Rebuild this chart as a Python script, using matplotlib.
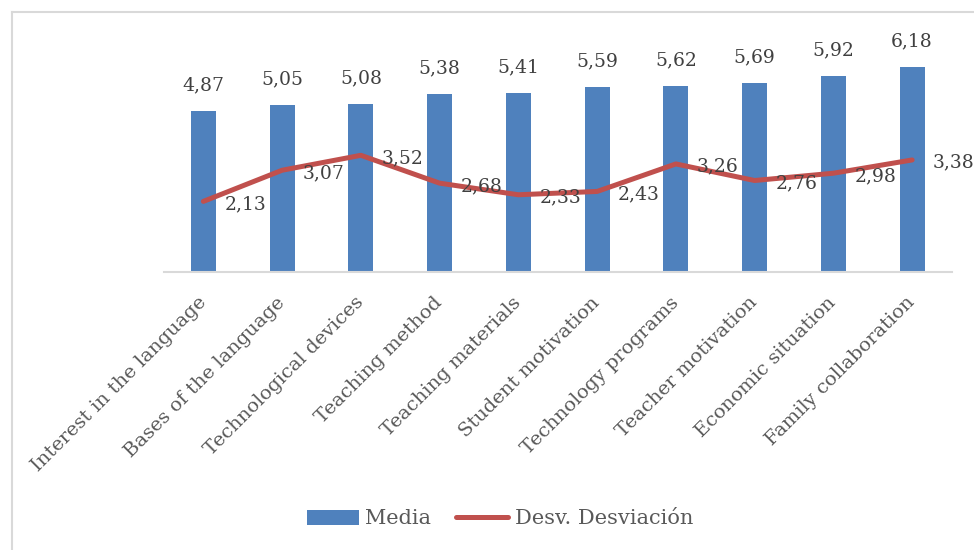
"""Media vs. Desv. Desviación per factor, bar + line combo chart."""

import matplotlib
matplotlib.use("Agg")
import matplotlib.pyplot as plt
from matplotlib.lines import Line2D

categories = [
    "Interest in the language",
    "Bases of the language",
    "Technological devices",
    "Teaching method",
    "Teaching materials",
    "Student motivation",
    "Technology programs",
    "Teacher motivation",
    "Economic situation",
    "Family collaboration",
]
media = [4.87, 5.05, 5.08, 5.38, 5.41, 5.59, 5.62, 5.69, 5.92, 6.18]
desviacion = [2.13, 3.07, 3.52, 2.68, 2.33, 2.43, 3.26, 2.76, 2.98, 3.38]

BAR_COLOR = "#4F81BD"
LINE_COLOR = "#C0504D"
LABEL_COLOR = "#404040"
TEXT_COLOR = "#595959"
FONT = "DejaVu Serif"


def fmt(v):
    return f"{v:.2f}".replace(".", ",")


def main():
    plt.rcParams["font.family"] = [FONT, "Liberation Serif"]
    W, H = 974, 550
    fig = plt.figure(figsize=(W / 100, H / 100), dpi=100)

    # plot area in pixels: x 164..951.5, baseline y=272, top y=6.8 (ylim 0..8)
    left, right = 164 / W, 951.5 / W
    bottom, top = (H - 272) / H, (H - 6.8) / H
    ax = fig.add_axes([left, bottom, right - left, top - bottom])

    x = list(range(len(categories)))
    bars = ax.bar(x, media, width=0.32, color=BAR_COLOR, label="Media", zorder=2)
    line, = ax.plot(x, desviacion, color=LINE_COLOR, linewidth=3.6,
                    solid_joinstyle="round", solid_capstyle="round",
                    label="Desv. Desviación", zorder=3)

    for xi, v in zip(x, media):
        ax.annotate(fmt(v), (xi, v), xytext=(0, 12), textcoords="offset points",
                    ha="center", va="bottom", fontsize=13.5, color=LABEL_COLOR)
    for xi, v in zip(x, desviacion):
        ax.annotate(fmt(v), (xi, v), xytext=(15, -2), textcoords="offset points",
                    ha="left", va="center", fontsize=13.5, color=LABEL_COLOR, zorder=4)

    ax.set_xlim(-0.5, len(categories) - 0.5)
    ax.set_ylim(0, 8)
    ax.set_yticks([])
    ax.set_xticks(x)
    ax.set_xticklabels(categories, rotation=45, ha="right", va="center",
                       rotation_mode="anchor", fontsize=14, color=TEXT_COLOR)
    ax.tick_params(axis="x", length=0, pad=20)
    for side in ("top", "right", "left"):
        ax.spines[side].set_visible(False)
    ax.spines["bottom"].set_color("#D9D9D9")
    ax.spines["bottom"].set_linewidth(1.5)
    ax.patch.set_alpha(0)

    fig.legend([bars, line], ["Media", "Desv. Desviación"],
               loc="center", bbox_to_anchor=(500 / W, (H - 519) / H),
               ncol=2, frameon=False, fontsize=15, handlelength=2.5,
               handletextpad=0.3, columnspacing=1.2,
               labelcolor=TEXT_COLOR)

    # outer chart frame (only top and left edges are visible in the crop)
    fx, fy = 11.5 / W, (H - 11.5) / H
    fig.add_artist(Line2D([fx, 1.0], [fy, fy], transform=fig.transFigure,
                          color="#D9D9D9", linewidth=1.5))
    fig.add_artist(Line2D([fx, fx], [0.0, fy], transform=fig.transFigure,
                          color="#D9D9D9", linewidth=1.5))

    fig.savefig("out.png", dpi=100)
    plt.close(fig)


if __name__ == "__main__":
    main()
